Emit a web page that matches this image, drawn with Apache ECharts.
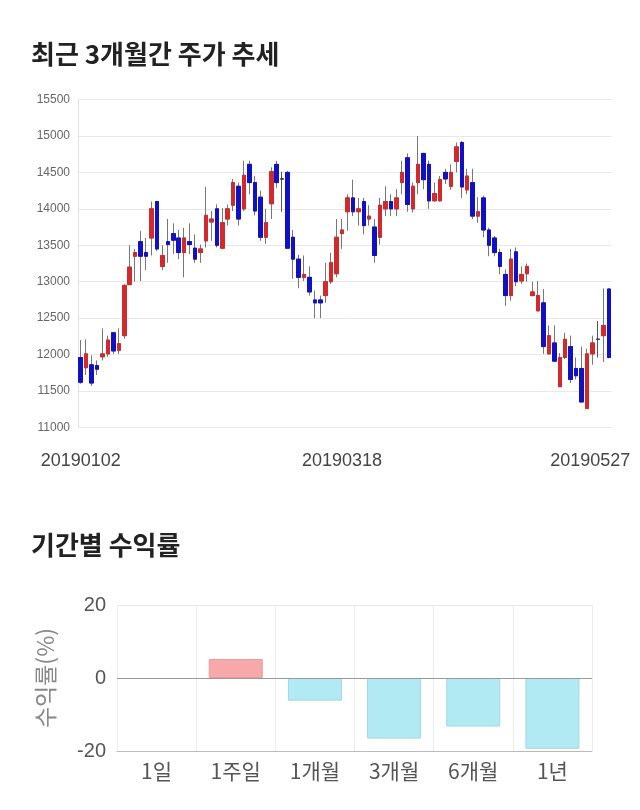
<!DOCTYPE html>
<html>
<head>
<meta charset="utf-8">
<script src="https://cdn.jsdelivr.net/npm/echarts@6/dist/echarts.min.js"></script>
<style>
html,body{margin:0;padding:0;background:#fff;}
#c{width:640px;height:810px;}
</style>
</head>
<body>
<div id="c"></div>
<script>
const dates = [
'20190102','20190103','20190104','20190107','20190108','20190109','20190110','20190111','20190114','20190115',
'20190116','20190117','20190118','20190121','20190122','20190123','20190124','20190125','20190128','20190129',
'20190130','20190131','20190207','20190208','20190211','20190212','20190213','20190214','20190215','20190218',
'20190219','20190220','20190221','20190222','20190225','20190226','20190227','20190228','20190304','20190305',
'20190306','20190307','20190308','20190311','20190312','20190313','20190314','20190315','20190318','20190319',
'20190320','20190321','20190322','20190325','20190326','20190327','20190328','20190329','20190401','20190402',
'20190403','20190404','20190405','20190408','20190409','20190410','20190411','20190412','20190415','20190416',
'20190417','20190418','20190419','20190422','20190423','20190424','20190425','20190426','20190429','20190430',
'20190502','20190503','20190507','20190508','20190509','20190510','20190513','20190514','20190515','20190516',
'20190517','20190520','20190521','20190522','20190523','20190524','20190527','20190528'
];
const openP = [11960,11820,11860,11850,11970,12010,12300,12060,12260,12960,
13350,13550,13400,13600,14100,13210,13550,13660,13600,13400,
13550,13460,13400,13560,13820,14000,13460,13860,14050,14310,
14000,14610,14360,14160,13610,14070,14610,14410,14500,13610,
13310,13060,13060,12750,12750,12810,13000,13110,13660,13960,
14150,13960,14100,13860,13750,13610,14000,14100,14000,14360,
14700,14000,14360,14760,14610,14110,14110,14500,14310,14650,
14910,14260,14360,13900,14150,13710,13600,13400,13100,12810,
13410,13010,13110,12810,12600,12710,12010,12160,11560,11960,
12110,11810,11810,11260,12010,12210,12260,12900];
const closeP = [11620,12010,11610,11800,12010,12200,12050,12150,12950,13200,
13400,13350,13350,14000,13450,13360,13510,13570,13400,13600,
13510,13310,13450,13910,13860,13500,13810,14000,14360,13860,
14460,14360,13970,13610,13810,14510,14360,14410,13460,13310,
13060,13100,12860,12710,12710,13000,13260,13610,13710,14150,
13960,14000,13770,13900,13360,14050,14100,14000,14150,14500,
14060,14310,14610,14400,14110,14210,14400,14410,14500,14850,
14300,14450,13900,13960,13710,13500,13400,13210,12810,13310,
13000,13100,13210,12860,12810,12110,12260,11910,11960,12210,
11660,11710,11350,12010,12160,12210,12400,11960];
const lowP = [11600,11720,11570,11720,11920,11970,12010,12010,12220,12960,
13000,13010,13160,13360,13420,13160,13260,13380,13310,13060,
13380,13260,13260,13470,13560,13470,13445,13770,13970,13770,
13970,14200,13910,13560,13520,13860,14290,13960,13450,13040,
12910,13010,12810,12500,12500,12710,12970,13060,13450,13700,
13900,13770,13650,13770,13260,13510,13900,13900,13900,14200,
13960,13950,14200,14270,14000,14100,14100,14340,14260,14500,
14150,14200,13860,13810,13610,13350,13350,13100,12670,12740,
12940,12970,13000,12800,12600,12010,12000,11900,11560,11940,
11610,11660,11350,11260,11860,11960,11900,11950];
const highP = [12200,12210,11990,11920,12360,12260,12310,12360,12960,13500,
13450,13700,13600,14100,14110,13500,13860,13800,13710,13740,
13800,13650,13510,14300,13970,14060,14010,14060,14410,14360,
14660,14660,14450,14250,14000,14570,14660,14510,14520,13710,
13370,13360,13210,12880,12810,13260,13400,13860,13860,14200,
14400,14150,14150,14050,13860,14150,14310,14200,14270,14660,
14760,14360,15000,14770,14660,14360,14450,14550,14610,14910,
14930,14550,14550,14160,14180,13740,13630,13450,13170,13450,
13470,13210,13250,13000,13010,12900,12400,12400,12020,12300,
12260,11960,12110,12080,12260,12460,12910,12910];

const periods = ['1일','1주일','1개월','3개월','6개월','1년'];
const returns = [0, 5.2, -6.2, -16.6, -13.3, -19.4];

const UP = '#d22a2a', DOWN = '#1010c4';
const full = dates.map((d,i)=>[openP[i], closeP[i], lowP[i], highP[i]]);
const body = dates.map((d,i)=>[openP[i], closeP[i], Math.min(openP[i],closeP[i]), Math.max(openP[i],closeP[i])]);
const barData = returns.map(v => ({
  value: v,
  itemStyle: v > 0 ? {color:'#f7a8a8', borderColor:'#eb9a9a', borderWidth:1}
           : v < 0 ? {color:'#b2eaf4', borderColor:'#a0d8e4', borderWidth:1}
           : {color:'rgba(0,0,0,0)', borderWidth:0}
}));

const chart = echarts.init(document.getElementById('c'), null, {renderer:'canvas'});
const KR = '"Noto Sans CJK KR", sans-serif';
const NUM = '"Liberation Sans", Arial, sans-serif';

chart.setOption({
  animation:false,
  backgroundColor:'#fff',
  title:[
    {text:'최근 3개월간 주가 추세', left:26, top:36, textStyle:{fontFamily:KR, fontSize:26, fontWeight:'bold', color:'#222'}},
    {text:'기간별 수익률', left:26, top:527, textStyle:{fontFamily:KR, fontSize:26, fontWeight:'bold', color:'#222'}}
  ],
  grid:[
    {left:78, right:28.5, top:99.5, height:328},
    {left:117, right:48, top:605, height:146}
  ],
  xAxis:[
    {type:'category', gridIndex:0, data:dates, boundaryGap:true,
     axisLine:{show:false}, axisTick:{show:false}, splitLine:{show:false},
     axisLabel:{interval:(i)=> i%48===0, margin:25, fontSize:18, color:'#444', fontFamily:NUM,
       formatter:(v,i)=> i===96 ? '{r|'+v+'}' : v,
       rich:{r:{fontSize:18, color:'#444', fontFamily:NUM, padding:[0,26,0,0]}}}},
    {type:'category', gridIndex:1, data:periods, boundaryGap:true,
     axisLine:{onZero:false, lineStyle:{color:'#bbb'}}, axisTick:{show:false},
     splitLine:{show:true, lineStyle:{color:'#ececec'}},
     axisLabel:{margin:10, fontSize:21, color:'#555', fontFamily:KR}}
  ],
  yAxis:[
    {type:'value', gridIndex:0, min:11000, max:15500, interval:500,
     axisLine:{show:true, lineStyle:{color:'#e2e2e2'}}, axisTick:{show:false},
     splitLine:{lineStyle:{color:'#e8e8e8'}},
     axisLabel:{margin:8, fontSize:12, color:'#666', fontFamily:NUM, formatter:(v)=> String(v)}},
    {type:'value', gridIndex:1, min:-20, max:20, interval:20,
     name:'수익률(%)', nameLocation:'middle', nameGap:60, nameRotate:90,
     nameTextStyle:{fontFamily:KR, fontSize:23, color:'#888'},
     axisLine:{show:false}, axisTick:{show:false},
     splitLine:{lineStyle:{color:'#e6e6e6'}},
     axisLabel:{margin:11, fontSize:20, color:'#555', fontFamily:NUM}}
  ],
  series:[
    {type:'candlestick', xAxisIndex:0, yAxisIndex:0, data:full, barWidth:4,
     itemStyle:{color:UP, color0:DOWN, borderColor:'#777', borderColor0:'#777', borderWidth:1, borderColorDoji:'#555'}},
    {type:'candlestick', xAxisIndex:0, yAxisIndex:0, data:body, barWidth:4, z:3,
     itemStyle:{color:UP, color0:DOWN, borderColor:UP, borderColor0:DOWN, borderWidth:1, borderColorDoji:'#333'}},
    {type:'bar', xAxisIndex:1, yAxisIndex:1, data:barData, barWidth:54,
     markLine:{silent:true, symbol:'none', label:{show:false},
       lineStyle:{color:'#999', type:'solid', width:1}, data:[{yAxis:0}]}}
  ]
});
</script>
</body>
</html>
